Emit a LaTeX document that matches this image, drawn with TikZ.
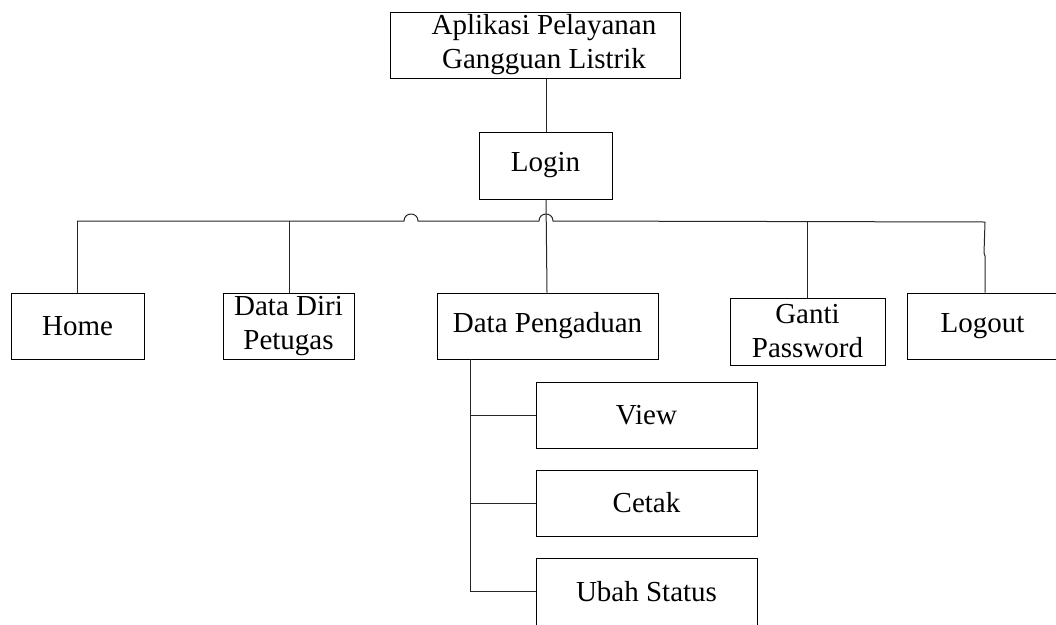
\documentclass[tikz,border=0pt]{standalone}
\usepackage{fontspec}
\setmainfont{Liberation Serif}
\begin{document}
\begin{tikzpicture}[x=1pt,y=-1pt,
  box/.style={draw=black,line width=1pt,inner sep=0pt,align=center,
    font=\fontsize{29}{34}\selectfont},
  conn/.style={draw=black!85,line width=1pt}]
\useasboundingbox (0,0) rectangle (1056,624);
\node[box,minimum width=290,minimum height=66] (top) at (535,45) {\hspace*{18pt}Aplikasi Pelayanan\\\hspace*{18pt}Gangguan Listrik};
\node[box,minimum width=133,minimum height=67] (login) at (545.5,165.5) {Login};
\node[box,minimum width=133,minimum height=66] (home) at (77.5,326) {Home};
\node[box,minimum width=131,minimum height=66] (diri) at (288.5,326) {Data Diri\\Petugas};
\node[box,minimum width=221,minimum height=66] (peng) at (547.5,326) {Data Pengaduan};
\node[box,minimum width=155,minimum height=67] (ganti) at (807.5,331.5) {Ganti\\Password};
\node[box,minimum width=151,minimum height=66] (logout) at (982.5,326) {Logout};
\node[box,minimum width=221,minimum height=66] (view) at (646.5,415) {View};
\node[box,minimum width=221,minimum height=66] (cetak) at (646.5,503) {Cetak};
\node[box,minimum width=221,minimum height=68] (ubah) at (646.5,592) {Ubah Status};
% bus coordinates
\coordinate (busL) at (77,221);
\coordinate (busR) at (985,222);
\coordinate (sub) at (470,359);
\coordinate (subEnd) at (470,591);
\coordinate (lgA) at (984,253);
\coordinate (lgB) at (985,256);
% top to login
\draw[conn] (top.south -| 546,0) -- (login.north -| 546,0);
% login down through bus to Data Pengaduan
\draw[conn] (login.south -| 546,0) -- (peng.north -| 547,0);
% bus with hops
\draw[conn] (busL) -- (404,221) .. controls (404,211.7) and (418,211.7) .. (418,221)
  -- (539,221) .. controls (539,211.7) and (553,211.7) .. (553,221) -- (busR);
% drops
\draw[conn] (busL) -- (home.north -| busL);
\draw[conn] (289,221) -- (diri.north -| 289,0);
\draw[conn] (807,221.7) -- (ganti.north -| 807,0);
\draw[conn] (busR |- 0,222) -- (lgA -| 984,0) -- (lgB) -- (logout.north -| lgB);
% sub tree
\draw[conn] (sub) -- (subEnd) -- (ubah.west |- subEnd);
\draw[conn] (sub |- view.west) -- (view.west);
\draw[conn] (sub |- cetak.west) -- (cetak.west);
\end{tikzpicture}
\end{document}
